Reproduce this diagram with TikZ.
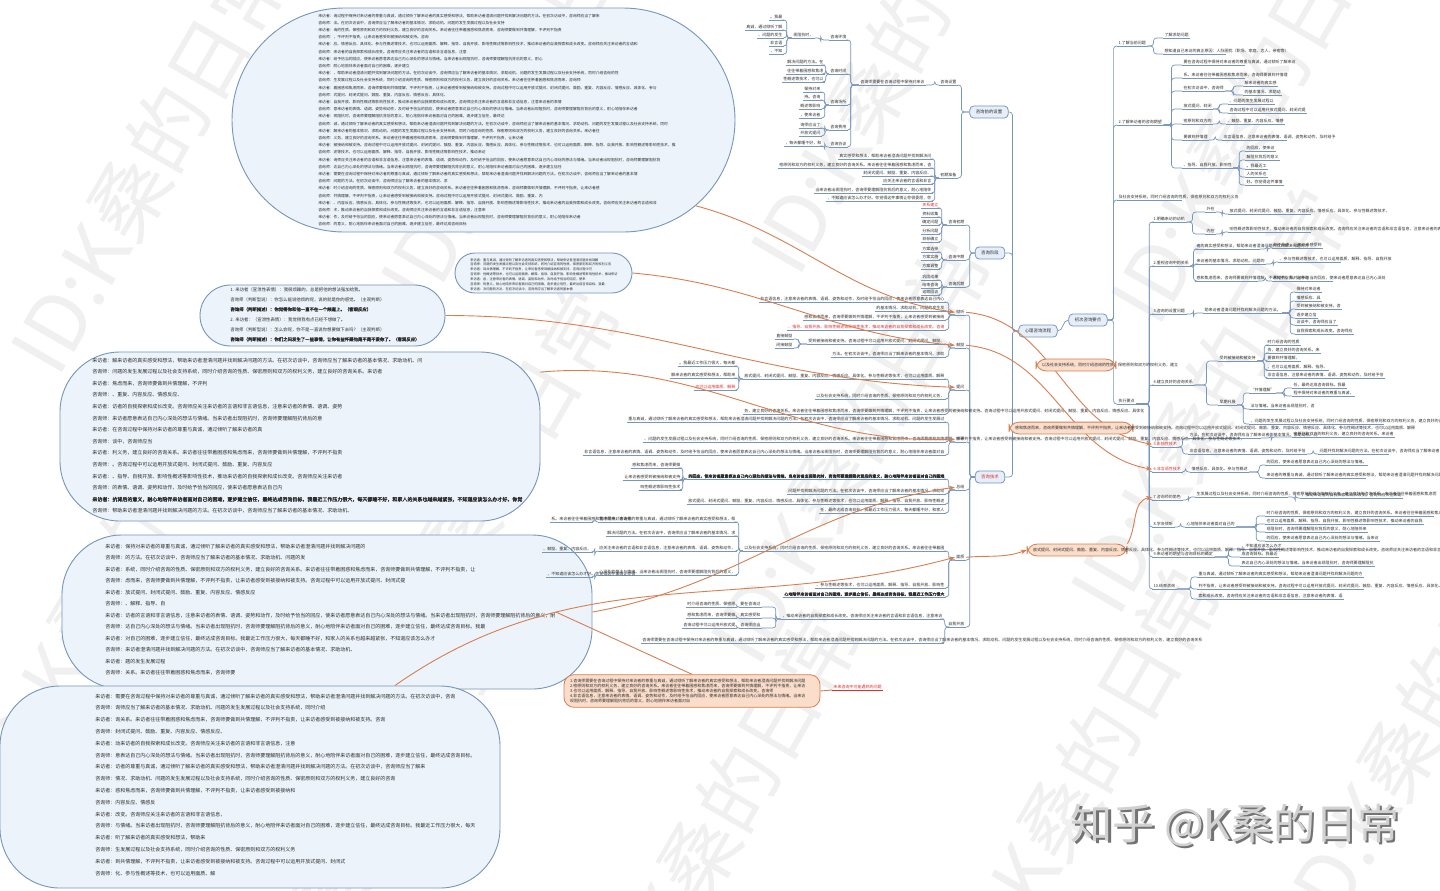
\documentclass[tikz,border=0pt]{standalone}
\usepackage{fontspec}
\setmainfont{Noto Sans CJK SC}[AutoFakeBold=2.5]
\usepackage{xstring}
\usetikzlibrary{shapes.misc,arrows.meta}
\definecolor{lb}{RGB}{118,150,186}
\definecolor{bubfill}{RGB}{236,243,250}
\definecolor{boxfill}{RGB}{230,239,249}
\definecolor{ofill}{RGB}{250,221,202}
\definecolor{oline}{RGB}{212,128,82}
\definecolor{ored}{RGB}{222,45,45}
\definecolor{txt}{RGB}{45,45,45}
\def\pool{咨询师需要在咨询过程中保持对来访者的尊重与真诚，通过倾听了解来访者的真实感受和想法，帮助来访者澄清问题并找到解决问题的方法。在初次访谈中，咨询师应当了解来访者的基本情况、求助动机、问题的发生发展过程以及社会支持系统，同时介绍咨询的性质、保密原则和双方的权利义务，建立良好的咨询关系。来访者往往带着困惑和焦虑而来，咨询师要做到共情理解，不评判不指责，让来访者感受到被接纳和被支持。咨询过程中可以运用开放式提问、封闭式提问、鼓励、重复、内容反应、情感反应、具体化、参与性概述等技术，也可以运用面质、解释、指导、自我开放、影响性概述等影响性技术，推动来访者的自我探索和成长改变。咨询师应关注来访者的言语和非言语信息，注意来访者的表情、语调、姿势和动作，及时给予恰当的回应，使来访者愿意表达自己内心深处的想法与情绪。当来访者出现阻抗时，咨询师要理解阻抗背后的意义，耐心地陪伴来访者面对自己的困难，逐步建立信任，最终达成咨询目标。我最近工作压力很大，每天都睡不好，和家人的关系也越来越紧张，不知道应该怎么办才好。你觉得这件事情让你很委屈，你希望他能够理解你的感受，而不是一味地指责你。}
\newcommand\ftx[2]{\StrMid{\pool}{#1}{\number\numexpr#1+#2-1\relax}}
\tikzset{
 tx0/.style={font=\fontsize{2}{2.6}\selectfont, text=txt, inner xsep=0.6pt, inner ysep=0.25pt},
 leaf/.style={tx0, anchor=south west, append after command={(\tikzlastnode.south west) edge[draw=lb,line width=0.35pt] (\tikzlastnode.south east)}},
 leafr/.style={tx0, anchor=south east, append after command={(\tikzlastnode.south west) edge[draw=lb,line width=0.35pt] (\tikzlastnode.south east)}},
 leafred/.style={tx0, text=ored, anchor=south west, append after command={(\tikzlastnode.south west) edge[draw=ored,line width=0.35pt] (\tikzlastnode.south east)}},
 boldf/.style={font=\fontsize{2}{2.6}\selectfont\bfseries},
 con/.style={draw=lb, line width=0.35pt, rounded corners=1.5pt},
 tbox/.style={tx0, font=\fontsize{2.2}{2.6}\selectfont, draw=lb, fill=boxfill, rounded corners=2pt, inner xsep=3pt, inner ysep=2pt, line width=0.4pt},
 bubble/.style={draw=lb, fill=bubfill, line width=0.45pt, inner sep=0pt},
 onode/.style={tx0, draw=oline, fill=ofill, rounded corners=5pt, align=left, inner xsep=3pt, inner ysep=2pt, line width=0.4pt},
 ocon/.style={draw=oline, line width=0.45pt},
 oarr/.style={ocon, -{Stealth[length=3pt,width=2.4pt]}},
 btxt/.style={anchor=base west, inner sep=0pt, text=txt},
 wm/.style={text=black!6, font=\fontsize{40}{40}\selectfont, rotate=60},
}
\newcommand\mlf[5][]{\node[leaf,#1] (#2) at (#3) {\ftx{#5}{#4}};}
\newcommand\mrf[5][]{\node[leafr,#1] (#2) at (#3) {\ftx{#5}{#4}};}
\newcommand\conR[3][6]{\draw[con] (#2.south east) -- ++(#1,0) |- (#3.south west);}
\newcommand\conL[3][6]{\draw[con] (#2.south west) -- ++(-#1,0) |- (#3.south east);}
\newcommand\boxR[3][6]{\draw[con] (#2.east) -- ++(#1,0) |- (#3.south west);}
\newcommand\boxL[3][6]{\draw[con] (#2.west) -- ++(-#1,0) |- (#3.south east);}
\begin{document}
\begin{tikzpicture}[x=0.5pt,y=-0.5pt]
\fill[white] (0,0) rectangle (1440,890);
\useasboundingbox (0,0) rectangle (1440,890);
% watermark
\foreach \x/\y [count=\k] in {150/160,520/90,890/60,1250/110,110/580,480/500,850/450,1210/400,350/860,720/820,1080/780,1420/720}{
 \node[wm] (wm\k) at (\x,\y) {ID:K桑的日常};
}
% ---------------- bubbles
\node[bubble, rounded rectangle, minimum width=251.5pt, minimum height=112pt] (B1) at (483.5,120) {};
\node[bubble, rounded rectangle, minimum width=88.5pt, minimum height=20pt] (B2) at (543.5,273) {};
\node[bubble, rounded rectangle, minimum width=122.5pt, minimum height=30.5pt] (B3) at (322.5,315.5) {};
\node[bubble, rectangle, rounded corners=30pt, minimum width=240pt, minimum height=84.5pt] (B4) at (300,436.5) {};
\node[bubble, rectangle, rounded corners=30pt, minimum width=265pt, minimum height=77pt] (B5) at (327,612) {};
\node[bubble, rectangle, rounded corners=30pt, minimum width=250pt, minimum height=101pt] (B6) at (250,787) {};
\foreach \L [count=\i from 0] in {70,45,60,25,80,35,55,20,75,65,85,30,60,80,45,88,70,50,90,40,86,60,80,30,70,55,85,40,65,35}{
 \pgfmathtruncatemacro\s{mod(\i*53+7,390)+1}
 \pgfmathsetmacro\yy{17+\i*7.2}
 \node[btxt,font=\fontsize{1.9}{2}\selectfont] (bA\i) at (318,\yy) {\ifodd\i 咨询师：\else 来访者：\fi\ftx{\s}{\L}};
}
\foreach \L [count=\i from 0] in {36,40,34,42,32,38,28}{
 \pgfmathtruncatemacro\s{mod(\i*71+19,390)+1}
 \pgfmathsetmacro\yy{261+\i*4.9}
 \node[btxt,font=\fontsize{1.6}{1.7}\selectfont] (bB\i) at (470,\yy) {\ifodd\i 咨询师：\else 来访者：\fi\ftx{\s}{\L}};
}
\node[btxt,font=\fontsize{2.2}{2.4}\selectfont] (bC1) at (230,291) {1. 来访者（宣泄性表情）：我很烦躁的，总是把他的想法强加给我。};
\node[btxt,font=\fontsize{2.2}{2.4}\selectfont] (bC2) at (230,301) {咨询师（判断型说）：你怎么能说他烦的呢，说的就是你的感觉。（主观判断）};
\node[btxt,font=\fontsize{2.2}{2.4}\selectfont\bfseries] (bC3) at (230,311) {咨询师（判断描述）：你觉得你和他一直不在一个频道上。（客观反应）};
\node[btxt,font=\fontsize{2.2}{2.4}\selectfont] (bC4) at (230,321) {2. 来访者：（宣泄性表情）：我觉得我有点已经不想做了。};
\node[btxt,font=\fontsize{2.2}{2.4}\selectfont] (bC5) at (230,331) {咨询师（判断型说）：怎么会呢，你不是一直说你想要做下去吗？（主观判断）};
\node[btxt,font=\fontsize{2.2}{2.4}\selectfont\bfseries] (bC6) at (230,341) {咨询师（判断描述）：你们之间发生了一些事情，让你有些怀疑他是不是不爱你了。（客观反应）};
\foreach \L [count=\i from 0] in {62,54,19,14,46,42,30,8,46,32,46,34,82,48}{
 \pgfmathtruncatemacro\s{mod(\i*61+29,390)+1}
 \pgfmathsetmacro\yy{362+\i*11.6}
 \ifnum\i=12 \def\myff{\bfseries}\else\def\myff{}\fi
 \node[btxt,font={\fontsize{2.5}{2.6}\selectfont\myff}] (bD\i) at (92,\yy) {\ifodd\i 咨询师：\else 来访者：\fi\ftx{\s}{\L}};
}
\foreach \L [count=\i from 0] in {48,36,70,56,26,8,86,72,62,46,8,22}{
 \pgfmathtruncatemacro\s{mod(\i*47+11,390)+1}
 \pgfmathsetmacro\yy{548+\i*11.5}
 \node[btxt,font=\fontsize{2.5}{2.6}\selectfont] (bE\i) at (105,\yy) {\ifodd\i 咨询师：\else 来访者：\fi\ftx{\s}{\L}};
}
\foreach \L [count=\i from 0] in {68,42,54,22,36,72,62,56,36,8,22,72,18,36,46,20}{
 \pgfmathtruncatemacro\s{mod(\i*67+3,390)+1}
 \pgfmathsetmacro\yy{698+\i*11.8}
 \node[btxt,font=\fontsize{2.5}{2.6}\selectfont] (bF\i) at (95,\yy) {\ifodd\i 咨询师：\else 来访者：\fi\ftx{\s}{\L}};
}
% ---------------- root and right side
\node[tbox] (R) at (1038,331) {心理咨询流程};
\node[tbox] (R1) at (1088,320) {初次咨询要点};
\draw[con] (R.east) to[out=0,in=180] (R1.west);
\node[leaf] (A1) at (1117,46) {1.了解当前问题};
\node[leaf] (A2) at (1117,125) {2.了解来访者的咨询期望};
\mlf[text width=31pt,align=left]{A3}{1117,200}{30}{101}
\node[leaf] (A4) at (1117,404) {执行要点};
\foreach \c in {A1,A2,A3,A4} {\boxR[6]{R1}{\c}}
\node[leaf] (A11) at (1163,38) {了解求助问题};
\node[leaf,text width=30pt,align=left] (A12) at (1163,54) {想知道自己来访的真正原因：人际困扰（职场、家庭、恋人、亲密等）};
\foreach \c in {A11,A12} {\conR[6]{A1}{\c}}
\mlf[text width=30pt,align=left]{A21}{1182,65}{28}{5}
\mlf[text width=30pt,align=left]{A22}{1182,78}{26}{140}
\mlf{A23}{1182,91}{10}{63}
\mlf{A24}{1182,109}{7}{200}
\mlf{A25}{1182,124}{7}{120}
\mlf{A26}{1182,140}{6}{160}
\mlf{A27}{1182,168}{12}{250}
\foreach \c in {A21,A22,A23,A24,A25,A26,A27} {\conR[8]{A2}{\c}}
\mlf{A231}{1243,86}{8}{30}
\mlf{A232}{1243,95}{9}{80}
\foreach \c in {A231,A232} {\conR[8]{A23}{\c}}
\mlf{A241}{1228,104}{11}{90}
\mlf{A242}{1228,113}{19}{190}
\foreach \c in {A241,A242} {\conR[6]{A24}{\c}}
\mlf{A251}{1226,124}{14}{210}
\conR[6]{A25}{A251}
\mlf[text width=31pt,align=left]{A261}{1222,140}{28}{300}
\conR[6]{A26}{A261}
\mlf{A271}{1245,151}{7}{330}
\mlf{A272}{1245,160}{8}{370}
\mlf{A273}{1245,169}{5}{410}
\mlf{A274}{1245,177}{5}{430}
\mlf{A275}{1245,185}{9}{450}
\foreach \c in {A271,A272,A273,A274,A275} {\conR[6]{A27}{\c}}
% execution points
\node[leaf] (N1) at (1152,222) {1.明确来访的动机};
\node[leaf] (N2) at (1152,266) {2.重视咨询中的关系};
\node[leaf] (N3) at (1152,314) {3.咨询的设置问题};
\node[leaf] (N4) at (1152,385) {4.建立良好的咨询关系};
\node[leaf,text=ored] (N5) at (1152,447) {5.影响性技术};
\node[leaf,text=ored] (N6) at (1152,472) {6.非言语性技术};
\node[leaf] (N7) at (1152,500) {7.咨询师的角色};
\node[leaf] (N8) at (1152,527) {8.学会倾听};
\node[leaf] (N9) at (1152,557) {9.来访者的期望与咨询目标的确定};
\node[leaf] (N10) at (1152,589) {10.结束咨询};
\foreach \c in {N1,N2,N3,N4,N5,N6,N7,N8,N9,N10} {\conR[13]{A4}{\c}}
\node[leaf] (N11) at (1205,212) {外在};
\node[leaf] (N12) at (1205,234) {内在};
\foreach \c in {N11,N12} {\conR[6]{N1}{\c}}
\mlf[text width=40pt,align=left]{N111}{1228,214}{40}{200}
\conR[6]{N11}{N111}
\mlf[text width=40pt,align=left]{N121}{1228,232}{60}{260}
\conR[6]{N12}{N121}
\mlf[text width=31pt,align=left]{N21}{1195,249}{28}{33}
\mlf{N22}{1195,264}{17}{77}
\mlf[text width=30pt,align=left]{N23}{1195,281}{28}{150}
\foreach \c in {N21,N22,N23} {\conR[3]{N2}{\c}}
\mlf{N211}{1272,248}{12}{170}
\conR[7]{N21}{N211}
\mlf[text width=30pt,align=left]{N221}{1278,262}{28}{230}
\conR[7]{N22}{N221}
\mlf[text width=29pt,align=left]{N231}{1272,281}{28}{320}
\conR[7]{N23}{N231}
\mlf{N31}{1203,313}{19}{44}
\conR[7]{N3}{N31}
\mlf{N311}{1295,292}{6}{12}
\mlf{N312}{1295,301}{6}{222}
\mlf{N313}{1295,309}{11}{180}
\mlf{N314}{1295,318}{5}{395}
\mlf{N315}{1295,325}{10}{66}
\mlf{N316}{1295,334}{14}{277}
\foreach \c in {N311,N312,N313,N314,N315,N316} {\conR[8]{N31}{\c}}
\mlf{N41}{1218,361}{9}{180}
\node[leaf] (N42) at (1218,405) {早期开展};
\foreach \c in {N41,N42} {\conR[12]{N4}{\c}}
\mlf{N411}{1266,345}{8}{110}
\mlf{N412}{1266,353}{13}{130}
\mlf{N413}{1266,361}{8}{160}
\mlf{N414}{1266,370}{15}{239}
\mlf{N415}{1266,378}{29}{300}
\foreach \c in {N411,N412,N413,N414,N415} {\conR[7]{N41}{\c}}
\node[leaf] (N421) at (1249,393) {“共情理解”};
\mlf[text width=17pt,align=left]{N422}{1249,409}{16}{350}
\mlf[text width=66pt,align=left]{N423}{1249,424}{62}{90}
\foreach \c in {N421,N422,N423} {\conR[6]{N42}{\c}}
\mlf{N4211}{1292,388}{13}{400}
\mlf{N4212}{1292,396}{15}{10}
\foreach \c in {N4211,N4212} {\conR[8]{N421}{\c}}
\mlf[text width=35pt,align=left]{N51}{1188,438}{32}{60}
\mlf{N52}{1188,454}{29}{300}
\foreach \c in {N51,N52} {\conR[4]{N5}{\c}}
\mlf{N511}{1292,437}{25}{120}
\conR[10]{N51}{N511}
\mlf[text width=34pt,align=left]{N521}{1318,454}{30}{50}
\conR[6]{N52}{N521}
\mlf{N61}{1190,472}{14}{222}
\conR[3]{N6}{N61}
\mlf{N611}{1265,465}{25}{330}
\mlf[text width=49pt,align=left]{N612}{1265,478}{45}{15}
\foreach \c in {N611,N612} {\conR[10]{N61}{\c}}
\mlf[text width=45pt,align=left]{N71}{1195,497}{60}{95}
\conR[6]{N7}{N71}
\mlf{N711}{1300,498}{25}{270}
\conR[7]{N71}{N711}
\mlf{N81}{1185,527}{12}{380}
\conR[6]{N8}{N81}
\mlf[text width=83pt,align=left]{N811}{1265,516}{60}{110}
\mlf{N812}{1265,524}{39}{240}
\mlf{N813}{1265,532}{25}{360}
\mlf{N814}{1265,541}{28}{330}
\foreach \c in {N811,N812,N813,N814} {\conR[20]{N81}{\c}}
\mlf{N91}{1240,549}{10}{440}
\mlf{N92}{1240,557}{9}{405}
\mlf{N93}{1240,566}{33}{340}
\foreach \c in {N91,N92,N93} {\conR[14]{N9}{\c}}
\mlf{N101}{1197,577}{41}{20}
\mlf[text width=82pt,align=left]{N102}{1197,589}{70}{170}
\mlf{N103}{1197,599}{36}{280}
\foreach \c in {N101,N102,N103} {\conR[14]{N10}{\c}}
% ---------------- left-centre branches
\node[tbox] (L1) at (989,112) {咨询前的设置};
\node[tbox] (L2) at (990,253) {咨询阶段};
\node[tbox,text=ored] (L3) at (990,477) {咨询技术};
\foreach \c in {L1,L2,L3} {\draw[con] (R.west) -- ++(-6,0) |- (\c.east);}
\node[leafr] (S1) at (958,85) {咨询设置};
\node[leafr] (S2) at (958,178) {初期准备};
\foreach \c in {S1,S2} {\boxL[8]{L1}{\c}}
\mrf{S11}{926,85}{16}{1}
\conL[4]{S1}{S11}
\node[leafr] (S111) at (848,40) {咨询环境};
\node[leafr] (S112) at (848,74) {咨询时间};
\node[leafr] (S113) at (848,105) {咨询场所};
\node[leafr] (S114) at (848,130) {咨询费用};
\node[leafr] (S115) at (848,147) {咨询协议};
\foreach \c in {S111,S112,S113,S114,S115} {\conL[8]{S11}{\c}}
\mrf{S1111}{815,38}{5}{360}
\conL[8]{S111}{S1111}
\mrf{S1a}{784,20}{3}{410}
\mrf{S1b}{784,30}{9}{22}
\mrf{S1c}{784,38}{6}{90}
\mrf{S1d}{784,46}{3}{300}
\mrf{S1e}{784,54}{3}{440}
\foreach \c in {S1a,S1b,S1c,S1d,S1e} {\conL[5]{S1111}{\c}}
\mrf{S2a}{825,65}{9}{55}
\mrf{S2b}{825,74}{9}{145}
\mrf{S2c}{825,82}{10}{233}
\foreach \c in {S2a,S2b,S2c} {\conL[3]{S112}{\c}}
\mrf{S3a}{822,92}{4}{12}
\mrf{S3b}{822,100}{4}{188}
\mrf{S3c}{822,109}{5}{262}
\mrf{S3d}{822,118}{5}{333}
\foreach \c in {S3a,S3b,S3c,S3d} {\conL[4]{S113}{\c}}
\mrf{S4a}{822,128}{5}{71}
\mrf{S4b}{822,136}{5}{199}
\foreach \c in {S4a,S4b} {\conL[4]{S114}{\c}}
\mrf{S5a}{823,146}{9}{420}
\conL[4]{S115}{S5a}
\mrf{S21}{933,159}{23}{35}
\mrf{S22}{933,168}{38}{120}
\mrf{S23}{933,176}{17}{205}
\mrf{S24}{933,184}{12}{290}
\mrf{S25}{933,193}{29}{355}
\mrf{S26}{933,201}{26}{440}
\foreach \c in {S21,S22,S23,S24,S25,S26} {\conL[4]{S2}{\c}}
\node[leafr] (P1) at (966,225) {咨询初期};
\node[leafr] (P2) at (966,260) {咨询中期};
\node[leafr] (P3) at (966,287) {咨询后期};
\foreach \c in {P1,P2,P3} {\boxL[5]{L2}{\c}}
\node[leafr,text=ored] (P11) at (940,208) {关系建立};
\node[leafr] (P12) at (940,217) {资料收集};
\node[leafr] (P13) at (940,225) {确定问题};
\node[leafr] (P14) at (940,234) {分析问题};
\node[leafr] (P15) at (940,242) {目标确立};
\foreach \c in {P11,P12,P13,P14,P15} {\conL[5]{P1}{\c}}
\node[leafr] (P21) at (940,252) {方案选择};
\node[leafr] (P22) at (940,260) {方案实施};
\node[leafr] (P23) at (940,269) {方案调整};
\foreach \c in {P21,P22,P23} {\conL[5]{P2}{\c}}
\node[leafr] (P31) at (940,280) {巩固成果};
\node[leafr] (P32) at (940,288) {结束咨询};
\node[leafr] (P33) at (940,295) {追踪回访};
\foreach \c in {P31,P32,P33} {\conL[5]{P3}{\c}}
% techniques
\node[leafr] (T1) at (966,315) {倾听};
\node[leafr] (T2) at (966,348) {鼓励};
\node[leafr] (T3) at (966,390) {提问};
\node[leafr] (T4) at (966,442) {解释};
\node[leafr] (T5) at (966,490) {总结};
\node[leafr] (T6) at (966,560) {面质};
\node[leafr] (T7) at (966,627) {自我开放};
\foreach \c in {T1,T2,T3,T4,T5,T6,T7} {\boxL[5]{L3}{\c}}
\mrf{T11}{946,302}{46}{300}
\mrf{T12}{946,311}{17}{80}
\mrf{T13}{946,320}{35}{150}
\mrf[text=ored]{T14}{946,330}{39}{250}
\foreach \c in {T11,T12,T13,T14} {\conL[6]{T1}{\c}}
\mrf{T21}{946,344}{34}{180}
\mrf{T22}{946,357}{28}{60}
\foreach \c in {T21,T22} {\conL[6]{T2}{\c}}
\node[leafr] (T211) at (794,339) {直接鼓励};
\node[leafr] (T212) at (794,348) {间接鼓励};
\foreach \c in {T211,T212} {\conL[8]{T21}{\c}}
\mrf{T31}{946,379}{50}{200}
\mrf{T32}{946,399}{32}{100}
\mrf[text width=100pt,align=left]{T33}{946,414}{100}{130}
\foreach \c in {T31,T32,T33} {\conL[6]{T3}{\c}}
\mrf{T311}{737,366}{14}{410}
\mrf{T312}{737,378}{16}{30}
\mrf[text=ored]{T313}{737,390}{10}{240}
\foreach \c in {T311,T312,T313} {\conL[4]{T31}{\c}}
\mrf{T41}{946,422}{79}{20}
\mrf[text width=150pt,align=left]{T42}{946,442}{150}{90}
\mrf{T43}{946,455}{90}{300}
\foreach \c in {T41,T42,T43} {\conL[6]{T4}{\c}}
\mrf[boldf]{T51}{946,479}{64}{330}
\mrf{T52}{946,494}{39}{50}
\mrf{T53}{946,504}{64}{200}
\mrf{T54}{946,513}{31}{400}
\foreach \c in {T51,T52,T53,T54} {\conL[6]{T5}{\c}}
\mrf{T511}{682,468}{12}{150}
\mrf{T512}{682,480}{14}{175}
\mrf{T513}{682,490}{10}{260}
\foreach \c in {T511,T512,T513} {\conL[4]{T51}{\c}}
\mrf{T61}{946,551}{50}{100}
\mrf{T62}{946,588}{32}{230}
\mrf[boldf]{T63}{946,597}{40}{380}
\foreach \c in {T61,T62,T63} {\conL[6]{T6}{\c}}
\mrf{T611}{737,522}{34}{10}
\mrf{T612}{737,536}{32}{55}
\mrf{T613}{737,551}{34}{290}
\mrf{T614}{737,575}{34}{345}
\foreach \c in {T611,T612,T613,T614} {\conL[4]{T61}{\c}}
\mrf[text width=20pt,align=left]{T6111}{593,522}{20}{140}
\conL[3]{T611}{T6111}
\mrf{T6131}{593,552}{12}{210}
\conL[3]{T613}{T6131}
\mrf[text width=22pt,align=left]{T6141}{593,577}{22}{440}
\conL[3]{T614}{T6141}
\mrf{T71}{944,619}{40}{270}
\mrf[text width=150pt,align=left]{T72}{944,643}{140}{1}
\foreach \c in {T71,T72} {\conL[2]{T7}{\c}}
\mrf{T711}{762,607}{5}{5}
\mrf{T712}{762,618}{5}{35}
\mrf{T713}{762,628}{5}{70}
\foreach \c in {T711,T712,T713} {\conL[5]{T71}{\c}}
\mrf{T7111}{737,607}{12}{110}
\conL[3]{T711}{T7111}
\mrf{T7121}{737,618}{12}{150}
\conL[3]{T712}{T7121}
\mrf{T7131}{737,628}{13}{190}
\conL[3]{T713}{T7131}
% ---------------- orange relationships
\draw[oarr] (B1.-22) to[out=-15,in=172] (T1.west);
\draw[oarr] (B2.east) to[out=-5,in=175] (T2.west);
\draw[oarr] (B3.east) to[out=0,in=178] (T3.west);
\draw[oarr] (B4.15) to[out=5,in=182] (T4.west);
\draw[oarr] (B5.east) to[out=10,in=188] (T5.west);
\draw[oarr] (B6.35) to[out=35,in=195] coordinate[pos=0.3] (m7) (T6.west);
\draw[oarr] (T1.east) to[out=-5,in=170] (N5.west);
\draw[oarr] (T2.east) to[out=-5,in=170] (N6.west);
\node[onode,text width=34pt] (O1) at (1076,365) {\ftx{100}{34}};
\node[onode,text width=56pt] (O2) at (1071,428) {\ftx{150}{100}};
\node[onode,text width=44pt] (O3) at (1077,550) {\ftx{200}{120}};
\draw[oarr] (T6.east) to[out=5,in=200] (O3.west);
\draw[oarr] (O3.north east) to[out=60,in=190] (N7.west);
\node[onode,text width=122pt] (O4) at (692,691) {1.\ftx{1}{58}\\ 2.\ftx{120}{58}\\ 3.\ftx{240}{50}\\ 4.\ftx{300}{58}\\ \ftx{360}{30}};
\draw[ocon] (O4.north) -- (m7);
\node[leafred] (O5) at (832,690) {未来咨询中可能遇到的问题};
\draw[ocon] (O4.east) -- (O5.south west);
% ---------------- signature
\node[font=\fontsize{21}{21}\selectfont, text=black!55] (zhs) at (1237.5,827.5) {知乎 @K桑的日常};
\node[font=\fontsize{21}{21}\selectfont, text=black!18] (zh) at (1235,825) {知乎 @K桑的日常};
\end{tikzpicture}
\end{document}
